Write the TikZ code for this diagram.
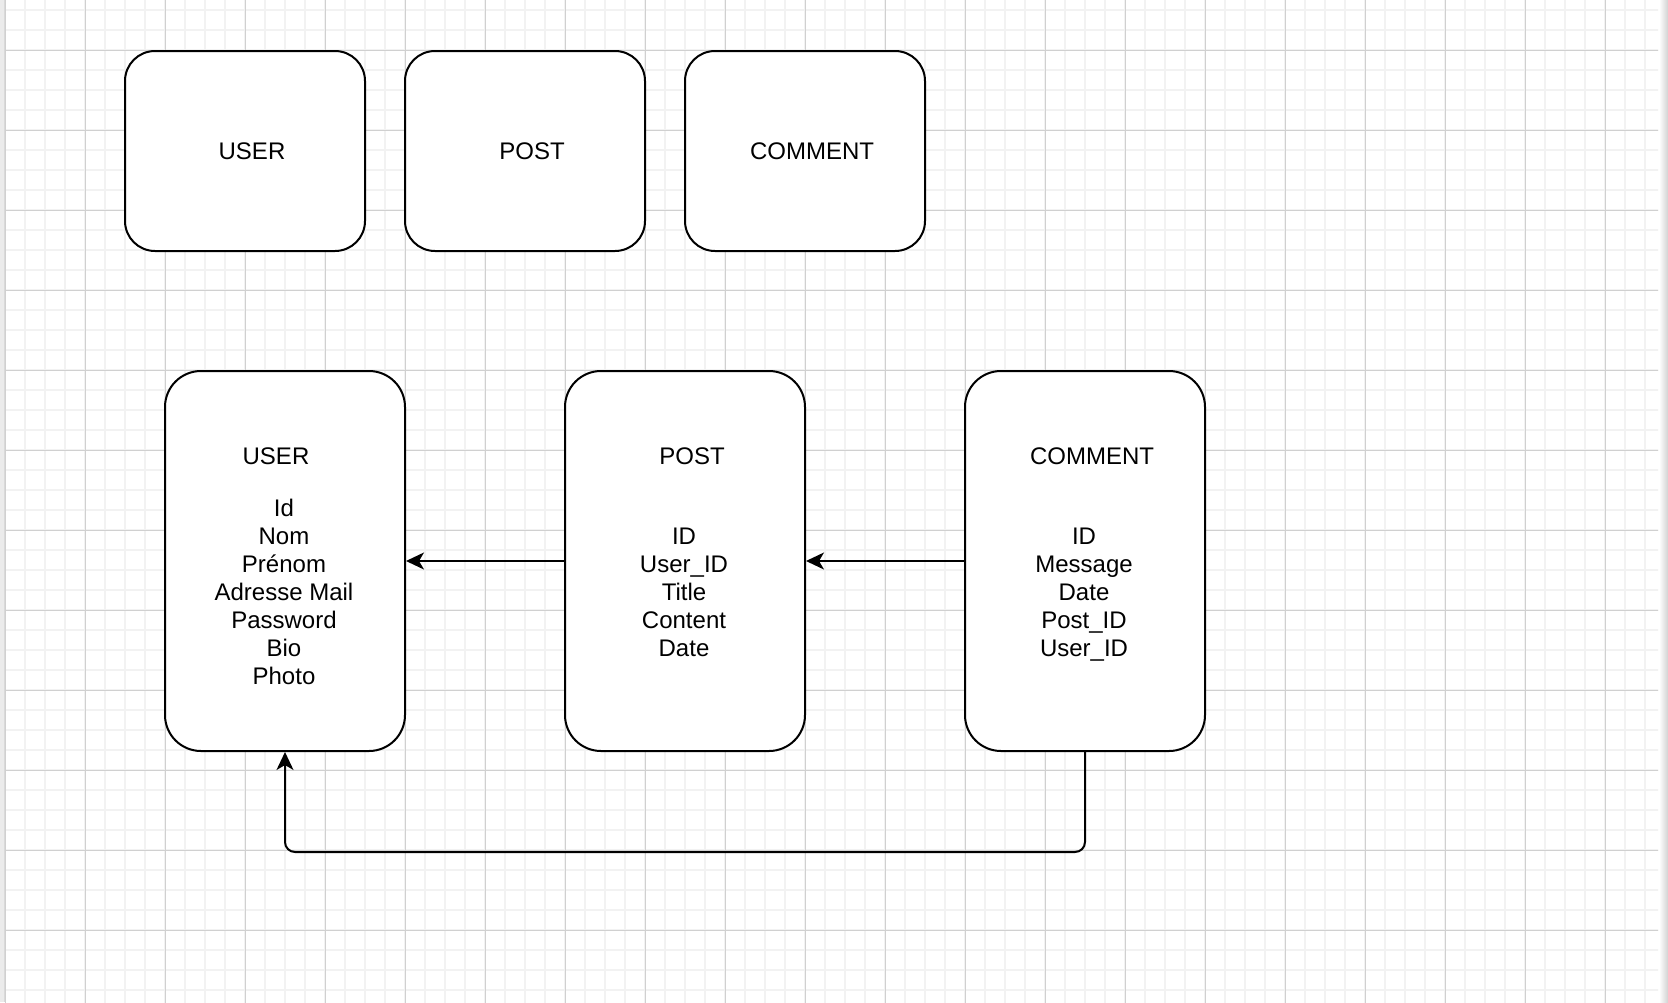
\documentclass[tikz,border=0pt]{standalone}
\usepackage{fontspec}
\setmainfont{Liberation Sans}
\usepackage{tikz}
\usetikzlibrary{arrows.meta}

\tikzset{
    entity/.style={draw, line width=2pt, fill=white, rounded corners=30pt, minimum width=240pt, minimum height=200pt},
    tablebox/.style={draw, line width=2pt, fill=white, rounded corners=36pt, minimum width=240pt, minimum height=380pt},
    caption/.style={font=\fontsize{24pt}{28pt}\selectfont, inner sep=0pt},
    fields/.style={caption, align=center, anchor=base},
    link/.style={line width=2pt, -{Stealth[length=18pt, width=17pt, inset=5pt]}},
    minorgrid/.style={gray!10, line width=1.5pt},
    majorgrid/.style={gray!37, line width=1pt}
}

\begin{document}
\begin{tikzpicture}[x=1pt, y=-1pt]
        \useasboundingbox (0,0) rectangle (1668,1002);
        \fill[white] (0,0) rectangle (1668,1002);
        \fill[gray!16] (0,0) rectangle (4,1002);
        \draw[gray!30, line width=1pt] (4,0) -- (4,1002);
        \shade[left color=white, right color=gray!35] (1659,0) rectangle (1668,1002);
        \begin{scope}
            \clip (5,0) rectangle (1658,1002);
            \draw[minorgrid, step=20pt, shift={(5,10)}] (0,-20) grid (1660,1000);
            \draw[majorgrid, step=80pt, shift={(5,50)}] (0,-60) grid (1660,960);
        \end{scope}
        \node[entity] (U1) at (245,151) {};
        \node[entity] (P1) at (525,151) {};
        \node[entity] (C1) at (805,151) {};
        \node[caption] (U1t) at (252,151) {USER};
        \node[caption] (P1t) at (532,151) {POST};
        \node[caption] (C1t) at (812,151) {COMMENT};
        \node[tablebox] (U2) at (285,561) {};
        \node[tablebox] (P2) at (685,561) {};
        \node[tablebox] (C2) at (1085,561) {};
        \node[caption, anchor=base] (U2t) at (276,464) {USER};
        \node[caption, anchor=base] (P2t) at (692,464) {POST};
        \node[caption, anchor=base] (C2t) at (1092,464) {COMMENT};
        \node[fields] (U2f) at (284,684) {Id\\Nom\\Prénom\\Adresse Mail\\Password\\Bio\\Photo};
        \node[fields] (P2f) at (684,656) {ID\\User\_ID\\Title\\Content\\Date};
        \node[fields] (C2f) at (1084,656) {ID\\Message\\Date\\Post\_ID\\User\_ID};
        \draw[link] (P2.west) -- (U2.east);
        \draw[link] (C2.west) -- (P2.east);
        \draw[link, rounded corners=10pt] (C2.south) -- ++(0,100) -| (U2.south);
    \end{tikzpicture}
\end{document}
